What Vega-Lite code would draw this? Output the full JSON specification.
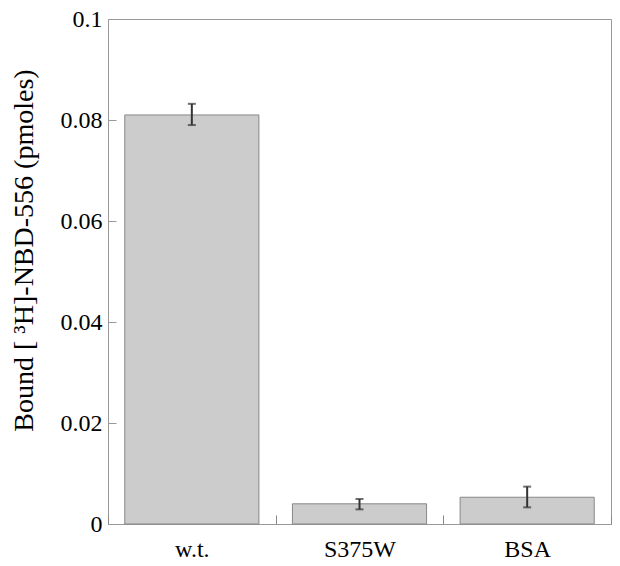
{
  "$schema": "https://vega.github.io/schema/vega-lite/v6.json",
  "width": 503,
  "height": 505,
  "autosize": "none",
  "padding": {"left": 108, "top": 19, "right": 9, "bottom": 42},
  "background": "white",
  "config": {
    "view": {"stroke": "#999999", "strokeWidth": 1},
    "font": "Liberation Serif",
    "axis": {"labelFont": "Liberation Serif", "titleFont": "Liberation Serif", "ticks": true, "tickWidth": 1, "tickColor": "#999999"}
  },
  "data": {
    "values": [
      {"group": "w.t.", "value": 0.081, "low": 0.079, "high": 0.0832},
      {"group": "S375W", "value": 0.004, "low": 0.0029, "high": 0.00495},
      {"group": "BSA", "value": 0.0053, "low": 0.0033, "high": 0.0074}
    ]
  },
  "encoding": {
    "x": {
      "field": "group",
      "type": "nominal",
      "sort": ["w.t.", "S375W", "BSA"],
      "scale": {"paddingInner": 0, "paddingOuter": 0},
      "axis": {
        "title": null,
        "labelAngle": 0,
        "labelFont": "Liberation Serif",
        "labelFontSize": 24,
        "labelColor": "black",
        "labelPadding": 13,
        "offset": -9,
        "ticks": true,
        "tickBand": "extent",
        "tickSize": 9,
        "tickWidth": 1,
        "tickColor": "#888888",
        "domain": false,
        "zindex": 0
      }
    }
  },
  "layer": [
    {
      "mark": {"type": "bar", "fill": "#cccccc", "stroke": "#888888", "strokeWidth": 1, "width": {"band": 0.8}},
      "encoding": {
        "y": {
          "field": "value",
          "type": "quantitative",
          "title": "Bound [ ³H]-NBD-556 (pmoles)",
          "scale": {"domain": [0, 0.1], "nice": false},
          "axis": {
            "titleFont": "Liberation Serif",
            "titleFontSize": 28,
            "titleFontWeight": "normal",
            "titleColor": "black",
            "titleX": -84,
            "titleY": 231,
            "titleAngle": -90,
            "titleAlign": "center",
            "titleBaseline": "alphabetic",
            "values": [0, 0.02, 0.04, 0.06, 0.08, 0.1],
            "format": "~g",
            "labelFont": "Liberation Serif",
            "labelFontSize": 24,
            "labelColor": "black",
            "labelPadding": 6,
            "offset": -8,
            "ticks": true,
            "tickSize": 8,
            "tickWidth": 1,
            "tickColor": "#999999",
            "domain": false,
            "grid": false,
            "zindex": 1
          }
        }
      }
    },
    {
      "mark": {"type": "errorbar", "color": "#333333", "thickness": 2, "ticks": {"size": 8, "thickness": 2, "color": "#333333"}},
      "encoding": {
        "y": {"field": "low", "type": "quantitative", "title": "Bound [ ³H]-NBD-556 (pmoles)"},
        "y2": {"field": "high"}
      }
    }
  ]
}
